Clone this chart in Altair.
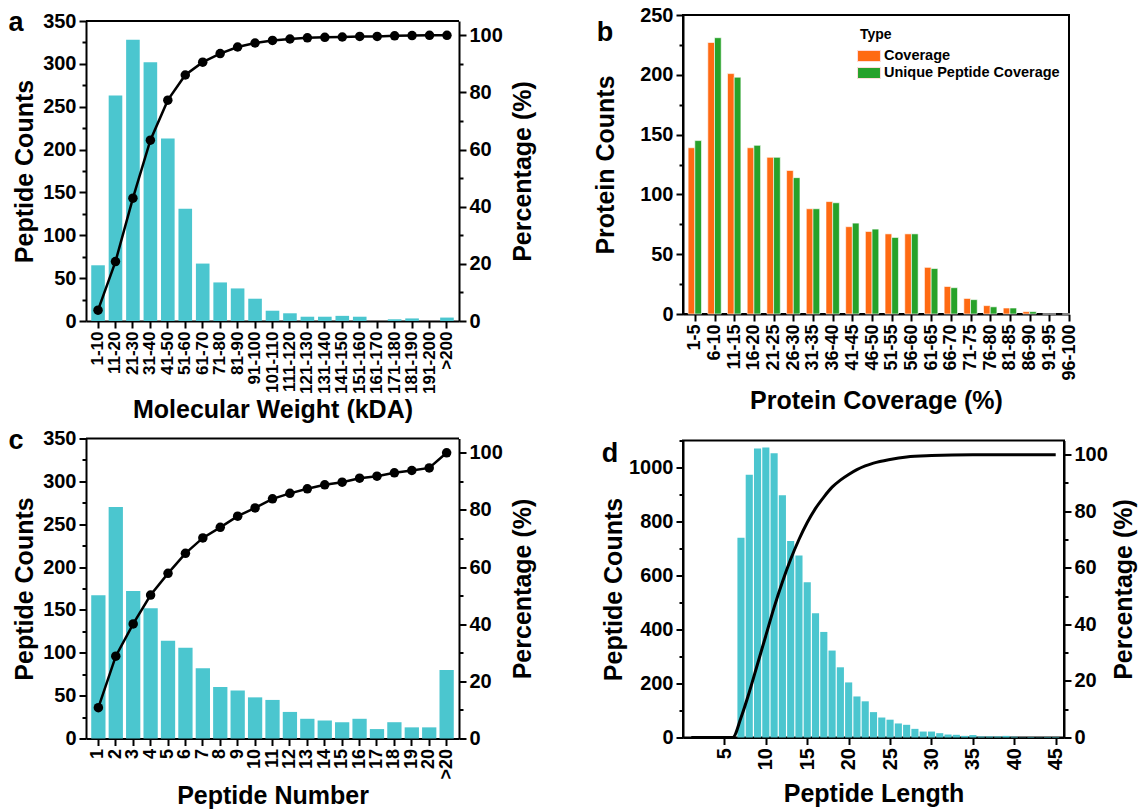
import altair as alt
import pandas as pd

FONT = "Liberation Sans"
CYAN = "#4BC6CF"
ORANGE = "#FF6A13"
GREEN = "#27A22A"

# ---------------- panel a: molecular weight ----------------
mw_labels = ["1-10", "11-20", "21-30", "31-40", "41-50", "51-60", "61-70", "71-80",
             "81-90", "91-100", "101-110", "111-120", "121-130", "131-140", "141-150",
             "151-160", "161-170", "171-180", "181-190", "191-200", ">200"]
mw_counts = [65, 263, 328, 302, 213, 131, 67, 45, 38, 26, 12, 9, 5, 5, 6, 5, 0, 2, 3, 0, 4]
mw_pct = [3.8, 20.8, 43.0, 63.3, 77.3, 86.1, 90.6, 93.6, 95.9, 97.3, 98.2, 98.7, 99.1,
          99.3, 99.4, 99.6, 99.6, 99.8, 99.9, 100, 100]

# ---------------- panel b: protein coverage ----------------
cov_labels = ["1-5", "6-10", "11-15", "16-20", "21-25", "26-30", "31-35", "36-40",
              "41-45", "46-50", "51-55", "56-60", "61-65", "66-70", "71-75", "76-80",
              "81-85", "86-90", "91-95", "96-100"]
cov_idx = [0, 1, 2, 3, 4, 5, 6, 7, 8, 9, 10, 11, 12, 13, 14, 15, 16, 17, 18, 19]
coverage = [139, 227, 201, 139, 131, 120, 88, 94, 73, 69, 67, 67, 39, 23, 13, 7, 5, 2, 0, 0]
unique_cov = [145, 231, 198, 141, 131, 114, 88, 93, 76, 71, 64, 67, 38, 22, 12, 6, 5, 2, 0, 0]
type_names = ["Coverage", "Unique Peptide Coverage"]

# ---------------- panel c: peptide number ----------------
pn_labels = ["1", "2", "3", "4", "5", "6", "7", "8", "9", "10", "11", "12", "13", "14",
             "15", "16", "17", "18", "19", "20", ">20"]
pn_counts = [167, 270, 172, 152, 114, 106, 82, 60, 56, 48, 45, 31, 23, 21, 19, 23, 11, 19, 13, 13, 80]
pn_pct = [10.8, 28.8, 40.1, 50.2, 57.8, 64.8, 70.2, 73.9, 77.8, 80.7, 83.9, 85.8, 87.4,
          88.8, 89.7, 91.1, 91.8, 93.0, 93.8, 94.7, 100]

# ---------------- panel d: peptide length ----------------
len_values = [7, 8, 9, 10, 11, 12, 13, 14, 15, 16, 17, 18, 19, 20, 21, 22, 23, 24, 25, 26,
              27, 28, 29, 30, 31, 32, 33, 34, 35, 36, 37, 38, 39, 40, 41, 42, 43, 44, 45]
len_counts = [740, 973, 1070, 1074, 1053, 897, 728, 674, 575, 460, 391, 322, 260, 204, 152,
              134, 94, 74, 66, 52, 47, 32, 22, 22, 16, 11, 10, 6, 9, 4, 4, 4, 6, 3, 1, 2, 1, 2, 2]
curve_x = [1, 6, 7, 8, 9, 10, 11, 12, 13, 14, 15, 16, 17, 18, 19, 20, 21, 22, 23, 25, 27, 30, 35, 45]
curve_pct = [0, 0, 7, 16, 26, 36, 46, 55, 63, 70, 76, 81, 85, 88.5, 91, 93, 94.7, 96, 97,
             98.3, 99.2, 99.7, 100, 100]

TITLE_SIZE = 25
LABEL_SIZE = 20


def minor_axis(title, top, minor, major, orient, title_pad):
    extra = {"titleAngle": 270, "titleBaseline": "top"} if orient == "right" else {}
    return alt.Axis(
        title=title, orient=orient, format="d",
        values=list(range(0, top + 1, minor)),
        labelExpr=f"datum.value % {major} === 0 ? datum.label : ''",
        tickSize={"condition": {"test": f"datum.value % {major} === 0", "value": 7}, "value": 4},
        labelOverlap=False, labelFontSize=LABEL_SIZE, titleFontSize=TITLE_SIZE,
        titlePadding=title_pad, labelPadding=3, grid=False, **extra,
    )


def band_x(labels, title, pad_inner, label_size, title_pad):
    return alt.X(
        "cat:N", sort=labels,
        scale=alt.Scale(paddingInner=pad_inner, paddingOuter=0.3),
        axis=alt.Axis(title=title, labelAngle=270, labelFontSize=label_size,
                      titleFontSize=TITLE_SIZE, tickSize=7, labelPadding=3,
                      titlePadding=title_pad, labelOverlap=False, grid=False),
    )


def letter(ch, dx, dy):
    return alt.Chart(pd.DataFrame({"t": [ch]})).mark_text(
        fontSize=27, fontWeight="bold", font=FONT, align="center", baseline="middle", color="black"
    ).encode(text="t:N", x=alt.value(dx), y=alt.value(dy))


def spacer(dx, dy):
    # invisible text that fixes the outer extent of a panel
    return alt.Chart(pd.DataFrame({"t": ["."]})).mark_text(
        fontSize=6, baseline="top", align="left", opacity=0
    ).encode(text="t:N", x=alt.value(dx), y=alt.value(dy))


def top_border(width, y):
    return alt.Chart(pd.DataFrame({"t": [0]})).mark_rule(color="black", strokeWidth=2).encode(
        x=alt.value(0), x2=alt.value(width), y=alt.value(y))


def count_pct_panel(labels, counts, pct, title, pad_inner, ch, label_size, title_pad, shift, top_extent):
    # `shift` pushes the plot area down inside its cell so that panels in a row can differ in top
    height = 300
    df = pd.DataFrame({"cat": labels, "count": counts, "pct": pct})
    x = band_x(labels, title, pad_inner, label_size, title_pad)
    bars = alt.Chart(df).mark_bar(color=CYAN).encode(
        x=x,
        y=alt.Y("count:Q", scale=alt.Scale(domain=[0, 350], nice=False, range=[height + shift, shift]),
                axis=minor_axis("Peptide Counts", 350, 25, 50, "left", 5)),
    )
    line = alt.Chart(df).mark_line(
        color="black", strokeWidth=2.5,
        point=alt.OverlayMarkDef(filled=True, color="black", size=90, opacity=1),
    ).encode(
        x=x,
        y=alt.Y("pct:Q", scale=alt.Scale(domain=[0, 105], nice=False, range=[height + shift, shift]),
                axis=minor_axis("Percentage (%)", 100, 10, 20, "right", 8)),
    )
    return alt.layer(
        bars, line, top_border(373, shift), letter(ch, -70, 2 + shift), spacer(0, top_extent)
    ).resolve_scale(y="independent").properties(
        width=373, height=height + shift, view=alt.ViewBackground(strokeOpacity=0))


panel_a = count_pct_panel(mw_labels, mw_counts, mw_pct, "Molecular Weight (kDA)", 0.22, "a", 17, 4, 6, -14)
panel_c = count_pct_panel(pn_labels, pn_counts, pn_pct, "Peptide Number", 0.18, "c", 18, 4, 0, -14)

# panel b
rows = []
for i, lab, cv, uv in zip(cov_idx, cov_labels, coverage, unique_cov):
    rows.append({"idx": i, "cat": lab, "Type": type_names[0], "value": cv, "side": -1})
    rows.append({"idx": i, "cat": lab, "Type": type_names[1], "value": uv, "side": 0})
df_b = pd.DataFrame(rows)
label_js = "[" + ",".join(f"'{s}'" for s in cov_labels) + "]"
bars_b = alt.Chart(df_b).transform_calculate(
    x0="datum.idx + datum.side * 0.34", x1="datum.idx + (datum.side + 1) * 0.34"
).mark_bar(stroke="white", strokeWidth=0.6).encode(
    x=alt.X("x0:Q", scale=alt.Scale(domain=[-0.6, 19], nice=False, zero=False),
            axis=alt.Axis(title="Protein Coverage (%)", values=cov_idx,
                          labelExpr=f"{label_js}[datum.value]", labelAngle=270,
                          labelFontSize=18, titleFontSize=TITLE_SIZE, tickSize=7,
                          labelPadding=3, titlePadding=8, labelOverlap=False,
                          labelFlush=False, grid=False)),
    x2="x1:Q",
    y=alt.Y("value:Q", scale=alt.Scale(domain=[0, 250], nice=False),
            axis=minor_axis("Protein Counts", 250, 25, 50, "left", 21)),
    y2=alt.datum(0),
    color=alt.Color("Type:N", scale=alt.Scale(domain=type_names, range=[ORANGE, GREEN]),
                    legend=alt.Legend(
                        orient="none", legendX=774, legendY=13, title="Type",
                        titleFontSize=14, titleFont=FONT, titleFontWeight="bold",
                        labelFontSize=14.5, labelFont=FONT, labelFontWeight="bold",
                        labelLimit=400, labelColor="black", titleColor="black",
                        symbolType="M-1.35,-0.65H1.35V0.65H-1.35Z", symbolSize=289,
                        symbolStrokeColor="#ffdddd", symbolStrokeWidth=1,
                        rowPadding=0, titlePadding=5, labelOffset=6)),
)
panel_b = alt.layer(bars_b, letter("b", -78, 18), spacer(0, -14)).properties(width=386, height=299)

# panel d
df_d = pd.DataFrame({"len": len_values, "count": len_counts})
df_curve = pd.DataFrame({"len": curve_x, "pct": curve_pct})
xd_scale = alt.Scale(domain=[0, 46], nice=False, zero=False)
bars_d = alt.Chart(df_d).transform_calculate(
    l0="datum.len - 0.43", l1="datum.len + 0.43"
).mark_bar(color=CYAN).encode(
    x=alt.X("l0:Q", scale=xd_scale,
            axis=alt.Axis(title="Peptide Length", values=[5, 10, 15, 20, 25, 30, 35, 40, 45],
                          labelAngle=270, labelFontSize=LABEL_SIZE, titleFontSize=TITLE_SIZE,
                          tickSize=7, labelPadding=3, titlePadding=12, labelFlush=False,
                          labelOverlap=False, grid=False)),
    x2="l1:Q",
    y=alt.Y("count:Q", scale=alt.Scale(domain=[0, 1100], nice=False),
            axis=minor_axis("Peptide Counts", 1100, 100, 200, "left", 2)),
    y2=alt.datum(0),
)
curve_d = alt.Chart(df_curve).mark_line(color="black", strokeWidth=3, interpolate="monotone").encode(
    x=alt.X("len:Q", scale=xd_scale),
    y=alt.Y("pct:Q", scale=alt.Scale(domain=[0, 105], nice=False),
            axis=minor_axis("Percentage (%)", 100, 10, 20, "right", 4)),
)
panel_d = alt.layer(bars_d, curve_d, letter("d", -73, 13), spacer(-90, -15)).resolve_scale(
    y="independent").properties(width=381, height=297)

chart = alt.concat(
    panel_a, panel_b, panel_c, panel_d,
    columns=2, align="none", spacing={"row": 1.5, "column": 56},
).properties(padding={"left": 8, "top": 0, "right": 5, "bottom": 0}).configure(
    font=FONT
).configure_axis(
    labelFont=FONT, titleFont=FONT, labelFontWeight="bold", titleFontWeight="bold",
    labelColor="black", titleColor="black", domainColor="black", tickColor="black",
    domainWidth=2, tickWidth=2,
).configure_view(stroke="black", strokeWidth=2)

chart.save("out.html", embed_options={"renderer": "svg", "actions": False})
